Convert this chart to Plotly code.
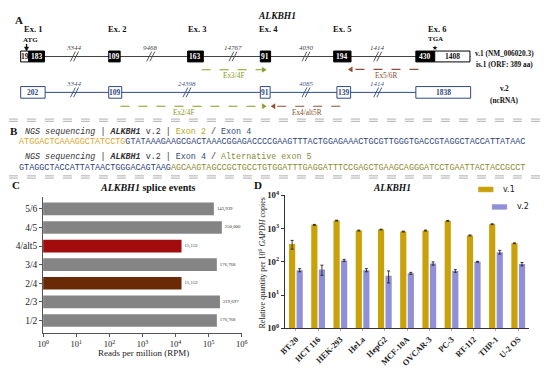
import plotly.graph_objects as go

W, H = 550, 375
SERIF = "Liberation Serif"
MONO = "Liberation Mono"

# ---------------- Panel A data (gene structure) ----------------
exon_headers = ["Ex. 1", "Ex. 2", "Ex. 3", "Ex. 4", "Ex. 5", "Ex. 6"]
v1_exon_labels = ["19", "183", "109", "163", "91", "194", "430", "1408"]
v1_exon_coding = [False, True, True, True, True, True, True, False]
v1_intron_labels = ["3344", "9468", "14767", "4030", "1414"]
v2_exon_labels = ["202", "109", "91", "139", "1838"]
v2_intron_labels = ["3344", "24398", "4085", "1414"]
primer_names = ["Ex3/4F", "Ex5/6R", "Ex2/4F", "Ex4/alt5R"]
v1_name = ["v.1 (NM_006020.3)", "is.1 (ORF: 389 aa)"]
v2_name = ["v.2", "(ncRNA)"]

# ---------------- Panel B data (sequences) ----------------
seq1_exon2 = "ATGGACTCAAAGGCTATCCTG"
seq1_exon4 = "GTATAAAGAAGCGACTAAACGGAGACCCCGAAGTTTACTGGAGAAACTGCGTTGGGTGACCGTAGGCTACCATTATAAC"
seq2_exon4 = "GTAGGCTACCATTATAACTGGGACAGTAAG"
seq2_alt5 = "AGCAAGTAGCCGCTGCCTGTGGATTTGAGGATTTCCGAGCTGAAGCAGGGATCCTGAATTACTACCGCCT"

# ---------------- Panel C data ----------------
splice_events = ["1/2", "2/3", "2/4", "3/4", "4/alt5", "4/5", "5/6"]
splice_rpm = [176768, 219697, 15152, 176768, 15152, 250000, 143939]
rpm_tickvals = [1, 10, 100, 1000, 10000, 100000, 1000000]
rpm_ticktext = ["10<sup>0</sup>", "10<sup>1</sup>", "10<sup>2</sup>", "10<sup>3</sup>",
                "10<sup>4</sup>", "10<sup>5</sup>", "10<sup>6</sup>"]

# ---------------- Panel D data ----------------
cell_lines = ["BT-20", "HCT 116", "HEK-293", "HeLa", "HepG2", "MCF-10A",
              "OVCAR-3", "PC-3", "RT-112", "THP-1", "U-2 OS"]
v1_values = [340, 1290, 1730, 870, 930, 810, 870, 1700, 620, 1350, 360]
v1_err = [100, 40, 50, 25, 25, 25, 30, 50, 20, 40, 10]
v2_values = [56, 59, 110, 56, 38, 45, 89, 53, 100, 195, 85]
v2_err = [6, 20, 8, 6, 15, 3, 10, 5, 3, 25, 10]
qty_tickvals = [1, 10, 100, 1000, 10000]
qty_ticktext = ["<b>10<sup>0</sup></b>", "<b>10<sup>1</sup></b>", "<b>10<sup>2</sup></b>",
                "<b>10<sup>3</sup></b>", "<b>10<sup>4</sup></b>"]

# ---------------- styles ----------------
GRAY_BAR = "#848484"
SPLICE_COLORS = {"2/4": "#6a2a06", "4/alt5": "#a20c0c"}
V1_COLOR = "#c9a10a"
V2_COLOR = "#9090d8"
NAVY = "#2f4a82"
OLIVE = "#8a9a22"
BROWN = "#8b5034"


def px(x):
    return x / W


def py(y):
    return 1 - y / H


shapes = []
annotations = []


def text(x, y, s, size=8, color="#222", family=SERIF, xanchor="center", bold=False,
         italic=False, angle=0, bg=None):
    if bold:
        s = "<b>" + s + "</b>"
    if italic:
        s = "<i>" + s + "</i>"
    d = dict(x=px(x), y=py(y), xref="paper", yref="paper", text=s, showarrow=False,
             xanchor=xanchor, yanchor="middle", textangle=angle,
             font=dict(size=size, color=color, family=family))
    if bg:
        d["bgcolor"] = bg
    annotations.append(d)


def rect(x0, x1, y0, y1, fill, line, lw=1):
    shapes.append(dict(type="rect", xref="paper", yref="paper", x0=px(x0), x1=px(x1),
                       y0=py(y1), y1=py(y0), fillcolor=fill, line=dict(color=line, width=lw)))


def line(x0, y0, x1, y1, color, width=1, dash="solid"):
    shapes.append(dict(type="line", xref="paper", yref="paper", x0=px(x0), y0=py(y0),
                       x1=px(x1), y1=py(y1), line=dict(color=color, width=width, dash=dash)))


def tri(xtip, y, direction, color, L=4, h=2.6):
    xb = xtip - direction * L
    path = "M %f,%f L %f,%f L %f,%f Z" % (px(xtip), py(y), px(xb), py(y - h), px(xb), py(y + h))
    shapes.append(dict(type="path", xref="paper", yref="paper", path=path,
                       fillcolor=color, line=dict(color=color, width=0.5)))


def breakmark(x, y, color):
    for dx in (-1.6, 1.6):
        line(x + dx - 2.5, y + 5, x + dx + 2.5, y - 5, color, 0.9)


# ================= Panel A =================
text(13, 14, "A", size=11, bold=True, color="#111")
text(277, 10, "ALKBH1", size=9.5, bold=True, italic=True, color="#111")
header_x = [28, 113, 195, 268, 343, 441]
for lab, x in zip(exon_headers, header_x):
    text(x, 24, lab, size=8.5, bold=True, color="#111")

# v.1 transcript
Y1 = 52
line(15, Y1, 475, Y1, "#444", 1.1)
v1_pos = [(15, 23.3), (23.3, 39.3), (105, 116.7), (185.7, 201.7), (260, 270.5),
          (335, 352.7), (419, 438.3), (438.3, 474.3)]
for lab, coding, (x0, x1) in zip(v1_exon_labels, v1_exon_coding, v1_pos):
    rect(x0, x1, Y1 - 5.6, Y1 + 5.6, "#000" if coding else "#fff", "#000", 1)
    text((x0 + x1) / 2, Y1, lab, size=7.5, bold=True,
         color="#fff" if coding else "#111")
v1_break_x = [70, 148, 232, 306.7, 380]
for lab, x in zip(v1_intron_labels, v1_break_x):
    breakmark(x, Y1, "#444")
    text(x, 43.5, lab, size=7, italic=True, color="#444")

# ATG / TGA
text(25, 35.5, "ATG", size=7, bold=True, color="#111")
line(21, 39, 21, 43, "#111", 1.3)
shapes.append(dict(type="path", xref="paper", yref="paper",
                   path="M %f,%f L %f,%f L %f,%f Z" % (px(21), py(46.3), px(18.8), py(42.3), px(23.2), py(42.3)),
                   fillcolor="#111", line=dict(color="#111", width=0.5)))
text(439, 34.5, "TGA", size=7, bold=True, color="#111")
text(439, 43, "★", size=6.5, color="#111", family="DejaVu Sans")

text(510, 49, v1_name[0], size=7.3, bold=True, color="#111")
text(510, 60.5, v1_name[1], size=7.3, bold=True, color="#111")

# v.2 transcript
Y2 = 89
line(15, Y2, 475, Y2, NAVY, 1.0)
v2_pos = [(15, 40), (105, 118.3), (260, 270), (338.3, 352.3), (419, 475)]
for lab, (x0, x1) in zip(v2_exon_labels, v2_pos):
    rect(x0, x1, Y2 - 6, Y2 + 6, "#fff", NAVY, 1)
    text((x0 + x1) / 2, Y2, lab, size=7.5, bold=True, color=NAVY)
v2_break_x = [70, 185, 306.7, 380]
for lab, x in zip(v2_intron_labels, v2_break_x):
    breakmark(x, Y2, NAVY)
    text(x, 80.5, lab, size=7, italic=True, color="#4a5a8a")
text(510, 85.5, v2_name[0], size=7.3, bold=True, color="#111")
text(510, 97, v2_name[1], size=7.3, bold=True, color="#111")

# primers
primer_geo = [  # (x_start, x_tip, y, label_x, label_y, color)
    (200, 266, 65.7, 233, 71.5, OLIVE),
    (421.7, 350, 65.3, 388, 71.5, BROWN),
    (117, 266, 103.3, 182, 109.5, OLIVE),
    (341.7, 271, 103.3, 308, 109.5, BROWN),
]
for name, (xs, xt, y, lx, ly, col) in zip(primer_names, primer_geo):
    d = 1 if xt > xs else -1
    line(xs, y, xt - d * 3, y, col, 1.1, "dash")
    tri(xt, y, d, col)
    text(lx, ly, name, size=7.3, color=col)

# separators
for yy in (116.5, 118.8, 175, 177.3):
    line(3, yy, 547, yy, "#9a9a9a", 0.8, "dash")

# ================= Panel B =================
text(8, 129, "B", size=11, bold=True, color="#111")
hdr1 = ("<i>NGS sequencing</i> | <b><i>ALKBH1</i></b> v.2 | "
        "<span style='color:#b8a52a'>Exon 2</span> / <span style='color:#2e4a7a'>Exon 4</span>")
hdr2 = ("<i>NGS sequencing</i> | <b><i>ALKBH1</i></b> v.2 | "
        "<span style='color:#2e4a7a'>Exon 4</span> / <span style='color:#8a8a3a'>Alternative exon 5</span>")
s1 = ("<span style='color:#dba52a'>" + seq1_exon2 + "</span>"
      "<span style='color:#2d3f78'>" + seq1_exon4 + "</span>")
s2 = ("<span style='color:#2d3f78'>" + seq2_exon4 + "</span>"
      "<span style='color:#8c8a2e'>" + seq2_alt5 + "</span>")
text(17, 129.5, hdr1, size=8.4, family=MONO, xanchor="left", color="#333")
text(11, 140.5, s1, size=8.45, family=MONO, xanchor="left")
text(17, 155.5, hdr2, size=8.4, family=MONO, xanchor="left", color="#333")
text(11, 166.5, s2, size=8.45, family=MONO, xanchor="left")

# ================= Panel C & D labels =================
text(10, 184, "C", size=11, bold=True, color="#111")
text(145, 187, "<i>ALKBH1</i> splice events", size=10, bold=True, color="#111")
text(141, 358, "Reads per million (RPM)", size=9, color="#222")
text(258, 184, "D", size=11, bold=True, color="#111")
text(395, 187, "ALKBH1", size=9.5, bold=True, italic=True, color="#111")
text(262, 265, "Relative quantity per 10<sup>6</sup> <i>GAPDH</i> copies", size=8,
     color="#222", angle=-90)

# legend (manual)
rect(483, 498, 186.5, 191.5, V1_COLOR, V1_COLOR, 0.5)
text(506, 189, "v.1", size=8, color="#222", family="DejaVu Sans", xanchor="left")
rect(497, 512, 204.5, 209.5, V2_COLOR, V2_COLOR, 0.5)
text(520, 207, "v.2", size=8, color="#222", family="DejaVu Sans", xanchor="left")

fig = go.Figure()

fig.add_trace(go.Bar(
    y=splice_events, x=splice_rpm, orientation="h",
    marker=dict(color=[SPLICE_COLORS.get(e, GRAY_BAR) for e in splice_events], line=dict(width=0)),
    width=0.68, text=[format(v, ",") for v in splice_rpm], textposition="outside",
    textfont=dict(size=4.8, family=SERIF, color="#333"), cliponaxis=False,
    xaxis="x", yaxis="y", showlegend=False))

fig.add_trace(go.Bar(
    x=cell_lines, y=v1_values, name="v.1", marker=dict(color=V1_COLOR, line=dict(width=0)),
    error_y=dict(type="data", array=v1_err, color="#222", thickness=0.9, width=1.5),
    xaxis="x2", yaxis="y2", showlegend=False))
fig.add_trace(go.Bar(
    x=cell_lines, y=v2_values, name="v.2", marker=dict(color=V2_COLOR, line=dict(width=0)),
    error_y=dict(type="data", array=v2_err, color="#222", thickness=0.9, width=1.5),
    xaxis="x2", yaxis="y2", showlegend=False))

fig.update_layout(
    width=W, height=H, autosize=False,
    margin=dict(l=0, r=0, t=0, b=0),
    paper_bgcolor="white", plot_bgcolor="white",
    barmode="group", bargap=0.32, bargroupgap=0.18,
    shapes=shapes, annotations=annotations,
    font=dict(family=SERIF, color="#222"),
    xaxis=dict(type="log", range=[0, 6], domain=[px(38), px(241)], anchor="y",
               tickvals=rpm_tickvals, ticktext=rpm_ticktext, ticks="outside", ticklen=3,
               tickcolor="#555", showline=True, linecolor="#555", linewidth=1,
               showgrid=False, zeroline=False, tickfont=dict(size=8.5, family=SERIF, color="#222")),
    yaxis=dict(type="category", categoryorder="array", categoryarray=splice_events,
               range=[-0.678, 6.626], domain=[py(337), py(197)], anchor="x",
               ticks="outside", ticklen=3, tickcolor="#555", showline=True, linecolor="#555",
               linewidth=1, showgrid=False, zeroline=False,
               tickfont=dict(size=9.5, family=SERIF, color="#222")),
    xaxis2=dict(domain=[px(285), px(535)], anchor="y2", tickangle=-45, ticks="outside",
                ticklen=2, tickcolor="#c9a", showline=True, linecolor="#333", linewidth=1,
                showgrid=False, zeroline=False,
                tickfont=dict(size=8.3, family=SERIF, color="#222", weight="bold")),
    yaxis2=dict(type="log", range=[0, 4], domain=[py(332), py(195)], anchor="x2",
                tickvals=qty_tickvals, ticktext=qty_ticktext, ticks="outside", ticklen=3,
                tickcolor="#333", showline=True, linecolor="#333", linewidth=1,
                showgrid=False, zeroline=False,
                tickfont=dict(size=8.8, family=SERIF, color="#222")),
)

fig.write_html("out.html", config={"displayModeBar": False},
               post_script="document.body.style.margin='0px';")
